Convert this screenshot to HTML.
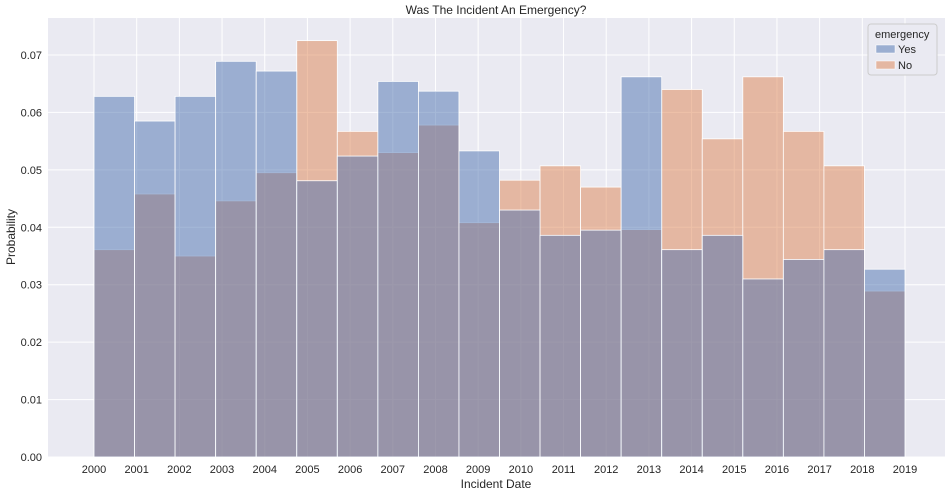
<!DOCTYPE html>
<html><head><meta charset="utf-8"><style>
body{margin:0;background:#fff;font-family:"Liberation Sans","DejaVu Sans",sans-serif;}
svg text{font-family:"Liberation Sans","DejaVu Sans",sans-serif;fill:#262626;}
</style></head><body>
<svg id="chart" width="952" height="496">
<rect x="48" y="18" width="897" height="439" fill="#eaeaf2"/>
<g id="grid"></g><g id="bars"></g><g id="ticks"></g>
<text x="496" y="14" text-anchor="middle" font-size="12">Was The Incident An Emergency?</text>
<text x="496" y="488" text-anchor="middle" font-size="12">Incident Date</text>
<text x="15" y="237" text-anchor="middle" font-size="12" transform="rotate(-90 15 237)">Probability</text>
<g>
<rect x="868" y="24" width="69" height="51" rx="3" fill="#eaeaf2" stroke="#cccccc"/>
<text x="875" y="38" font-size="11">emergency</text>
<rect x="876" y="45" width="19" height="8" fill="rgba(76,114,176,0.5)" stroke="#fff" stroke-width="0.5"/>
<text x="898" y="53" font-size="11">Yes</text>
<rect x="876" y="61" width="19" height="8" fill="rgba(221,132,82,0.5)" stroke="#fff" stroke-width="0.5"/>
<text x="898" y="69" font-size="11">No</text>
</g>
</svg>
<script>
const yesValues=[0.0628,0.0585,0.0628,0.0689,0.0672,0.0481,0.0524,0.0654,0.0637,0.0533,0.0430,0.0386,0.0395,0.0662,0.0361,0.0386,0.0310,0.0344,0.0361,0.0327];
const noValues=[0.0361,0.0458,0.0350,0.0446,0.0495,0.0725,0.0567,0.0530,0.0578,0.0408,0.0482,0.0507,0.0470,0.0396,0.0640,0.0554,0.0662,0.0567,0.0507,0.0289];
const xTickLabels=[2000,2001,2002,2003,2004,2005,2006,2007,2008,2009,2010,2011,2012,2013,2014,2015,2016,2017,2018,2019];
const yTickValues=[0,0.01,0.02,0.03,0.04,0.05,0.06,0.07];
const NS="http://www.w3.org/2000/svg";
const x0=94,x1=905,yBase=457,yPer=5743;
const xYear=v=>x0+(v-2000)*(x1-x0)/19;
const yScale=v=>yBase-v*yPer;
const nb=yesValues.length,bw=(x1-x0)/nb;
const xBin=i=>x0+i*bw;
function mk(tag,attrs,parent){const e=document.createElementNS(NS,tag);for(const k in attrs)e.setAttribute(k,attrs[k]);document.getElementById(parent).appendChild(e);return e;}
yTickValues.forEach(v=>{
 const l=mk('line',{x1:48,x2:945,y1:yScale(v),y2:yScale(v),stroke:'#fff','stroke-width':1},'grid');
 
 
 const t=mk('text',{x:42,y:yScale(v)+4,'text-anchor':'end','font-size':11},'ticks');
 t.textContent=v.toFixed(2);
 
 
});
xTickLabels.forEach(v=>{
 const l=mk('line',{x1:xYear(v),x2:xYear(v),y1:18,y2:457,stroke:'#fff','stroke-width':1},'grid');
 
 
 const t=mk('text',{x:xYear(v),y:473,'text-anchor':'middle','font-size':11},'ticks');
 t.textContent=v;
 
 
});
noValues.forEach((v,i)=>{
 const r=mk('rect',{x:xBin(i),y:yScale(v),width:bw,height:yBase-yScale(v),fill:'rgba(221,132,82,0.5)',stroke:'#fff','stroke-width':0.8},'bars');
 
 
});
yesValues.forEach((v,i)=>{
 const r=mk('rect',{x:xBin(i),y:yScale(v),width:bw,height:yBase-yScale(v),fill:'rgba(76,114,176,0.5)',stroke:'#fff','stroke-width':0.8},'bars');
 
 
});
</script>
</body></html>
